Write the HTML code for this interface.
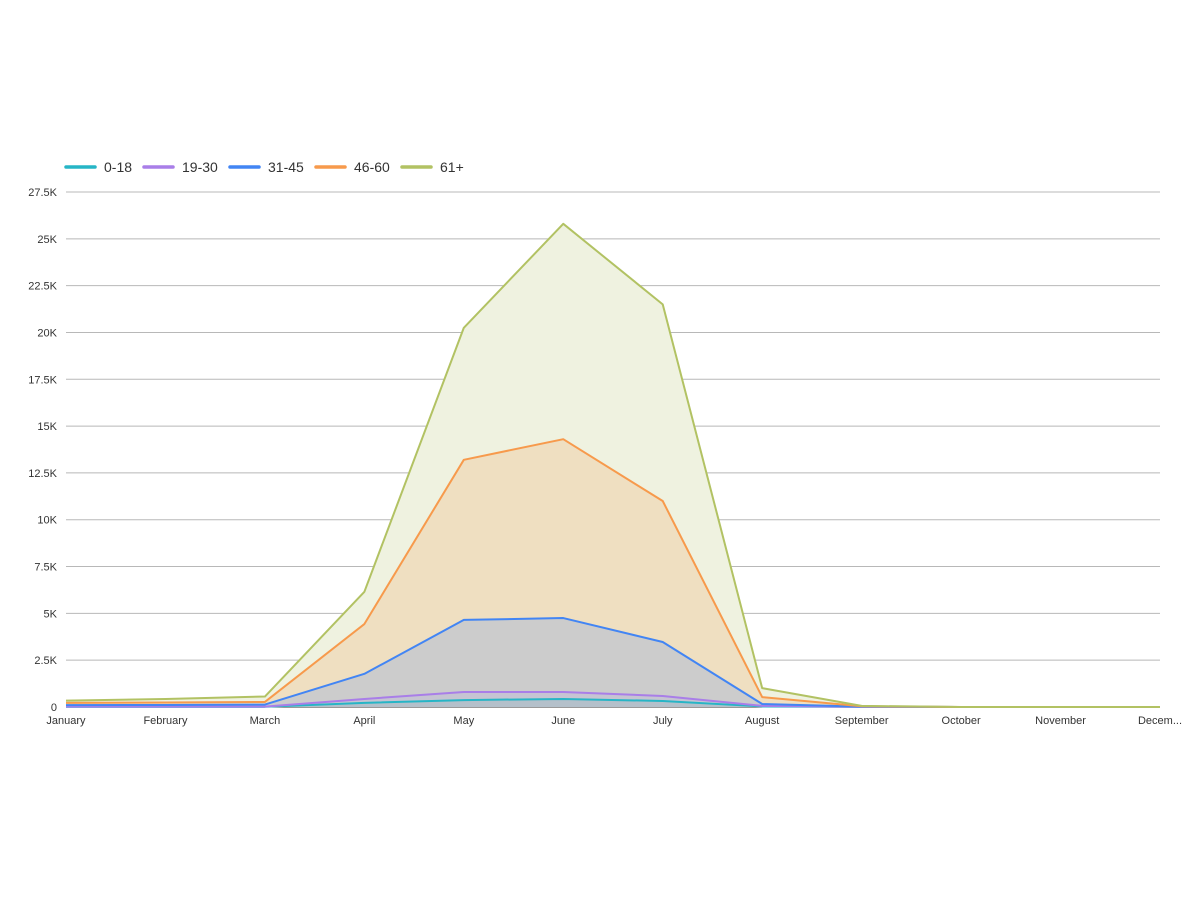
<!DOCTYPE html>
<html><head><meta charset="utf-8"><style>
html,body{margin:0;padding:0;background:#fff;}
svg{display:block;font-family:"Liberation Sans",sans-serif;}
</style></head><body>
<svg id="chart" width="1200" height="900"></svg>
<script>
const months=["January","February","March","April","May","June","July","August","September","October","November","Decem..."];
const seriesNames=["0-18","19-30","31-45","46-60","61+"];
const s0=[10,10,10,220,370,430,320,30,5,0,0,0];
const s1=[10,10,10,210,430,370,270,30,5,0,0,0];
const s2=[80,90,110,1340,3850,3950,2880,100,10,0,0,0];
const s3=[120,130,140,2660,8550,9550,7530,370,20,0,0,0];
const s4=[120,190,290,1720,7050,11500,10500,480,20,0,0,0];
const yTicks=[0,2500,5000,7500,10000,12500,15000,17500,20000,22500,25000,27500];
const yTickLabels=["0","2.5K","5K","7.5K","10K","12.5K","15K","17.5K","20K","22.5K","25K","27.5K"];

const series=[s0,s1,s2,s3,s4];
const lineColors=["#26b5c6","#a97ee8","#4285f4","#f79a4c","#b2c263"];
const fillColors=["#b4c0ca","#c6c4d2","#cccccc","#efdfc1","#eff2e0"];
const NS="http://www.w3.org/2000/svg";
const svg=document.getElementById('chart');
const X0=66,X1=1160,Y0=707,Y1=192,YMAX=27500;
const x=i=>X0+i*(X1-X0)/(months.length-1);
const y=v=>Y0-(v/YMAX)*(Y0-Y1);
function mk(t,a){const e=document.createElementNS(NS,t);for(const k in a)e.setAttribute(k,a[k]);svg.appendChild(e);return e;}

yTicks.forEach((t,i)=>{
  const g=mk('line',{x1:X0,x2:X1,y1:y(t),y2:y(t),stroke:i==0?'#333':'#b8b8b8','stroke-width':1});
  
  
  const tx=mk('text',{x:57,y:y(t)+4,'text-anchor':'end','font-size':11,fill:'#333'});
  tx.textContent=yTickLabels[i];
  
  
});
months.forEach((m,i)=>{
  const tx=mk('text',{x:x(i),y:724,'text-anchor':'middle','font-size':11,fill:'#333'});
  tx.textContent=m;
  
  
});

const cum=[];let base=months.map(()=>0);
series.forEach(s=>{base=base.map((b,i)=>b+s[i]);cum.push(base.slice());});
for(let k=series.length-1;k>=0;k--){
  const top=cum[k];
  let d='M'+x(0)+','+Y0;
  top.forEach((v,i)=>{d+=' L'+x(i)+','+y(v);});
  d+=' L'+x(months.length-1)+','+Y0+' Z';
  const p=mk('path',{d:d,fill:fillColors[k],stroke:'none'});
  
  
}
for(let k=0;k<series.length;k++){
  const pts=cum[k].map((v,i)=>x(i)+','+y(v)).join(' ');
  const l=mk('polyline',{points:pts,fill:'none',stroke:lineColors[k],'stroke-width':2,'stroke-linejoin':'round'});
  
  
}
const legX=[66,144,230,316,402];
seriesNames.forEach((n,i)=>{
  const ln=mk('line',{x1:legX[i],x2:legX[i]+29,y1:167,y2:167,stroke:lineColors[i],'stroke-width':3.5,'stroke-linecap':'round'});
  
  
  const t=mk('text',{x:legX[i]+38,y:172,'font-size':14,fill:'#333'});
  t.textContent=n;
  
  
});
</script>
</body></html>
